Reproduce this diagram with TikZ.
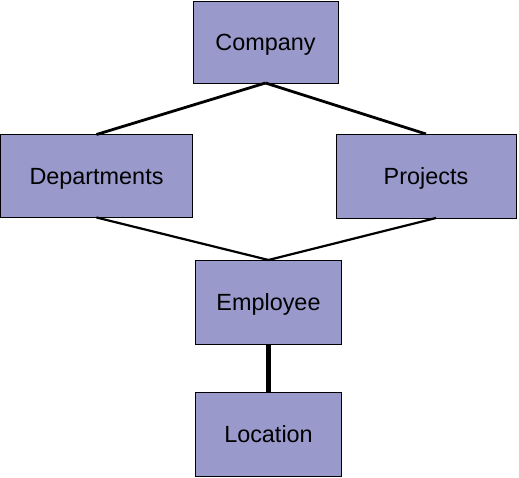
\documentclass[tikz,border=0pt]{standalone}
\usepackage{fontspec}
\setmainfont{Liberation Sans}
\usetikzlibrary{calc}
\definecolor{boxfill}{HTML}{9999CC}
\begin{document}
\begin{tikzpicture}[x=1pt,y=-1pt,
  entity/.style={draw=black,line width=0.9pt,fill=boxfill,rectangle,inner sep=0pt,outer sep=0pt,
     font=\fontsize{23.4}{28}\selectfont,text=black,text height=16.8pt,text depth=0pt},
  link/.style={draw=black,line width=2.8pt},
  thinlink/.style={draw=black,line width=2.2pt},
  thicklink/.style={draw=black,line width=5.5pt}]
\useasboundingbox (0,0) rectangle (519,478);
\node[entity,minimum width=145pt,minimum height=82pt] (company) at (265.5,42) {Company};
\node[entity,minimum width=192pt,minimum height=83pt] (dept) at (96.5,176) {Departments};
\node[entity,minimum width=180pt,minimum height=84pt] (proj) at (426,176) {Projects};
\node[entity,minimum width=146pt,minimum height=84pt] (emp) at (268.5,302) {Employee};
\node[entity,minimum width=146pt,minimum height=84pt] (loc) at (268.5,434.5) {Location};
\draw[link] (company.south) -- (dept.north);
\draw[link] (company.south) -- (proj.north);
\draw[thinlink] (dept.south) -- (emp.north);
\draw[thinlink] ($(proj.south)+(10,0)$) -- (emp.north);
\draw[thicklink] (emp.south) -- (loc.north);
\end{tikzpicture}
\end{document}
